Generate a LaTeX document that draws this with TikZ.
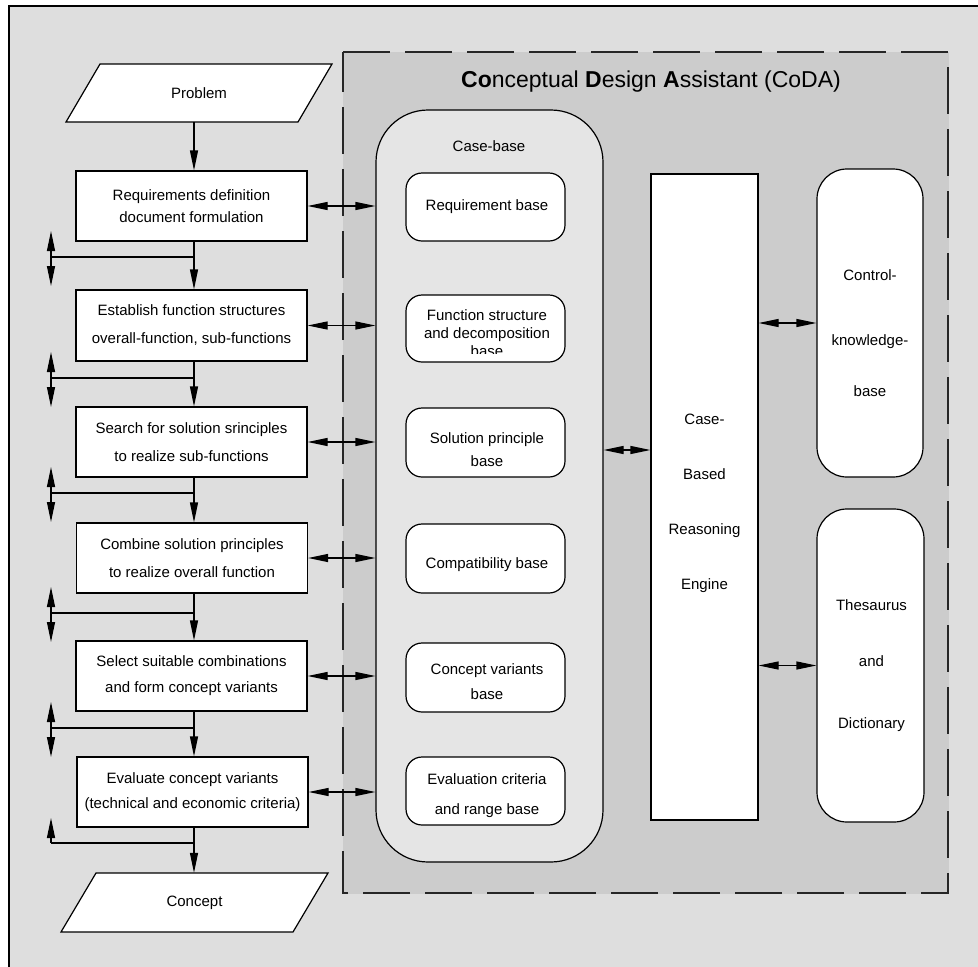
\documentclass[tikz,border=0pt]{standalone}
\usepackage{fontspec}
\setmainfont{Liberation Sans}
\usetikzlibrary{arrows.meta}
\definecolor{bgout}{gray}{0.87}
\definecolor{bgcoda}{gray}{0.80}
\definecolor{bgcase}{gray}{0.90}
\tikzset{
 lbox/.style={draw, fill=white, line width=1.2pt, minimum width=231pt, minimum height=70pt, inner sep=0pt, align=center},
 ibox/.style={draw, fill=white, line width=1.2pt, rounded corners=16pt, minimum width=159pt, minimum height=68pt, inner sep=0pt},
 txt/.style={align=center, inner sep=0pt},
 conn/.style={line width=1.2pt},
 para/.style={draw, fill=white, line width=1.2pt},
}
\newcommand{\fs}[1]{\fontsize{15}{#1}\selectfont}
\begin{document}
\begin{tikzpicture}[x=1pt,y=-1pt,>={Triangle[length=20pt,width=8pt]}]
\useasboundingbox (0,0) rectangle (978,967);
% backgrounds
\fill[white] (0,0) rectangle (978,967);
\fill[bgout] (9,6) rectangle (978,967);
\draw[line width=1.3pt] (9,967) -- (9,6) -- (978,6);
\draw[bgcoda!100, fill=bgcoda] (343,52) rectangle (948,893);
\draw[line width=1.2pt, black!85, dash pattern=on 47pt off 15pt] (343,52) -- (948,52) -- (948,893) -- (343,893) -- cycle;
\node (title) at (651,82) {\fontsize{23}{28}\selectfont\textbf{Co}nceptual \textbf{D}esign \textbf{A}ssistant (CoDA)};

% left column
\coordinate (axis) at (194,0);
\draw[para] (100,64) -- (332,64) -- (298,122) -- (66,122) -- cycle;
\node[minimum width=232pt, minimum height=58pt, inner sep=0pt, font=\fs{18}] (prob) at (199,93) {Problem};
\node[lbox, font=\fs{22}] (b1) at (191.5,206) {Requirements definition\\document formulation};
\node[lbox, font=\fs{28}, minimum height=71pt] (b2) at (191.5,325.5) {Establish function structures\\overall-function, sub-functions};
\node[lbox, font=\fs{28}] (b3) at (191.5,442) {Search for solution srinciples\\to realize sub-functions};
\node[lbox, font=\fs{28}] (b4) at (192,558) {Combine solution principles\\to realize overall function};
\node[lbox, font=\fs{26}] (b5) at (191.5,676) {Select suitable combinations\\and form concept variants};
\node[lbox, font=\fs{25}] (b6) at (192.5,792) {Evaluate concept variants\\(technical and economic criteria)};
\draw[para] (96,873) -- (328,873) -- (293,932) -- (61,932) -- cycle;
\node[minimum width=232pt, minimum height=59pt, inner sep=0pt, font=\fs{18}] (conc) at (194.5,902.5) {\raisebox{-3pt}{Concept}};

\draw[conn,->] (prob.south -| axis) -- (b1.north -| axis);
\draw[conn,->] (b1.south -| axis) -- (b2.north -| axis);
\draw[conn,->] (b2.south -| axis) -- (b3.north -| axis);
\draw[conn,->] (b3.south -| axis) -- (b4.north -| axis);
\draw[conn,->] (b4.south -| axis) -- (b5.north -| axis);
\draw[conn,->] (b5.south -| axis) -- (b6.north -| axis);
\draw[conn,->] (b6.south -| axis) -- (conc.north -| axis);

% feedback branches
\foreach \i/\y in {1/257,2/378,3/493,4/613,5/728}{
  \coordinate (r\i) at (194,\y);
  \coordinate (l\i) at (51,\y);
  \draw[conn] (r\i) -- (l\i);
  \draw[conn,<->] ([yshift=26pt]l\i) -- ([yshift=-29pt]l\i);
}
\coordinate (r6) at (194,843);
\coordinate (l6) at (51,843);
\draw[conn] (r6) -- (l6);
\draw[conn,->] (l6) -- ([yshift=25pt]l6);

% case-base
\node[draw, fill=bgcase, line width=1.2pt, rounded corners=52pt, minimum width=227pt, minimum height=752pt] (cb) at (489.5,486) {};
\node[txt, font=\fs{18}] (cbt) at (489,146) {Case-base};
\node[ibox] (req) at (485.5,207) {};
\node[txt, font=\fs{18}] (reqt) at (487,207) {Requirement base};
\node[ibox, minimum height=67pt] (fsb) at (485.5,328.5) {};
\begin{scope}
 \clip (406,290) rectangle (565,353.5);
 \node[txt, font=\fs{18}] (fsbt) at (487,333) {Function structure\\and decomposition\\base};
\end{scope}
\node[ibox, minimum height=69pt] (spb) at (485.5,442.5) {};
\node[txt, font=\fs{23}] (spbt) at (487,449.5) {Solution principle\\base};
\node[ibox, minimum height=69pt] (cpb) at (485.5,558.5) {};
\node[txt, font=\fs{18}] (cpbt) at (487,565) {Compatibility base};
\node[ibox, minimum height=69pt] (cvb) at (485.5,677.5) {};
\node[txt, font=\fs{25}] (cvbt) at (487,681.5) {Concept variants\\base};
\node[ibox] (ecb) at (485.5,791) {};
\node[txt, font=\fs{30}] (ecbt) at (487,796) {Evaluation criteria\\and range base};

% CBR engine and knowledge bases
\node[draw, fill=white, line width=1.2pt, minimum width=107pt, minimum height=646pt, inner sep=0pt] (cbr) at (704.5,497) {};
\node[txt, font=\fs{55}] (cbrt) at (704.5,503.5) {Case-\\Based\\Reasoning\\Engine};
\node[draw, fill=white, line width=1.2pt, rounded corners=30pt, minimum width=106pt, minimum height=308pt, inner sep=0pt] (ck) at (870,323) {};
\node[txt, font=\fs{18}] (ckt) at (870,333) {Control-\\[47pt]knowledge-\\[33pt]base};
\node[draw, fill=white, line width=1.2pt, rounded corners=30pt, minimum width=107pt, minimum height=313pt, inner sep=0pt] (th) at (870.5,665.5) {};
\node[txt, font=\fs{18}] (tht) at (871.5,666) {Thesaurus\\[38pt]and\\[44pt]Dictionary};

% double arrows
\foreach \b in {b1,b2,b3,b4,b5,b6}{
  \draw[conn,<->] (\b.east) -- (\b.east -| cb.west);
}
\coordinate (yc) at (0,450);
\draw[conn,<->] (yc -| cb.east) -- (yc -| cbr.west);
\draw[conn,<->] (ck.west -| cbr.east) -- (ck.west);
\draw[conn,<->] (th.west -| cbr.east) -- (th.west);
\end{tikzpicture}
\end{document}
